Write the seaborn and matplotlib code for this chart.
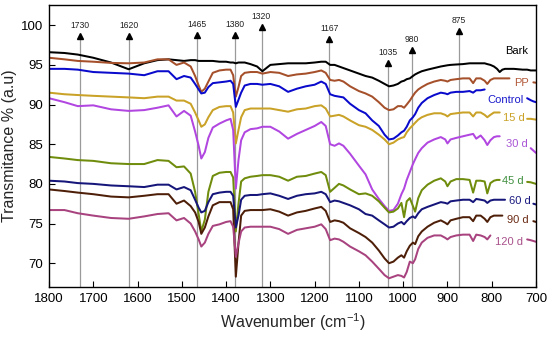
import numpy as np
import pandas as pd
import matplotlib
matplotlib.use("Agg")
import matplotlib.pyplot as plt
import seaborn as sns

nan = np.nan

wavenumber = [1800, 1765, 1735, 1700, 1660, 1620, 1585, 1555, 1530, 1512,
              1495, 1480, 1470, 1462, 1456, 1448, 1440, 1430, 1415, 1400,
              1390, 1384, 1378, 1372, 1366, 1358, 1345, 1330, 1318, 1300,
              1280, 1260, 1240, 1220, 1200, 1185, 1175, 1165, 1155, 1145,
              1135, 1120, 1100, 1085, 1070, 1055, 1042, 1032, 1022, 1012,
              1004, 998, 992, 985, 978, 973, 966, 958, 945, 930,
              915, 905, 900, 893, 880, 865, 850, 842, 835, 825,
              816, 810, 803, 795, 788, 782, 776, 770, 760, 750,
              740, 730, 720, 712, 706, 700]

bark = [96.6, 96.5, 96.3, 95.9, 95.3, 94.45, 95.2, 95.6, 95.7, 95.6,
        95.5, 95.6, 95.6, 95.5, 95.5, 95.5, 95.5, 95.5, 95.4, 95.4,
        95.3, 95.3, 95.2, 95.3, 95.3, 95.3, 95.1, 94.8, 94.2, 95.0,
        95.1, 95.2, 95.2, 95.2, 95.3, 95.4, 95.4, 95.0, 95.0, 94.8,
        94.6, 94.3, 93.9, 93.6, 93.4, 93.0, 92.6, 92.3, 92.4, 92.6,
        92.9, 93.0, 93.2, 93.3, 93.6, 93.8, 94.0, 94.2, 94.4, 94.6,
        94.8, 94.9, 94.95, 95.0, 95.05, 95.1, 95.2, 95.2, 95.2, 95.2,
        95.2, 95.1, 95.0, 94.8, 94.5, 94.1, 94.4, 94.5, 94.5, 94.5,
        94.45, 94.4, 94.4, 94.3, 94.3, 94.3]

pp = [95.9, 95.7, 95.5, 95.4, 95.25, 95.2, 95.3, 95.7, 95.7, 95.0,
      95.3, 94.8, 93.6, 92.4, 91.6, 92.0, 92.9, 94.0, 94.3, 94.4,
      94.4, 93.7, 91.0, 92.2, 93.6, 94.0, 94.1, 94.1, 93.9, 94.1,
      94.0, 93.6, 93.8, 93.9, 94.1, 94.3, 94.0, 93.1, 93.0, 93.1,
      92.9, 92.3, 91.7, 91.4, 91.0, 90.3, 89.6, 89.3, 89.4, 89.8,
      89.8, 89.6, 90.0, 90.5, 91.1, 91.5, 91.9, 92.2, 92.6, 92.9,
      93.1, 93.0, 92.9, 93.1, 93.2, 93.3, 93.3, 92.7, 93.3, 93.3,
      93.0, 92.6, 93.1, 93.3, 93.3, 93.3, 93.3, 93.3, 93.3, nan,
      nan, nan, nan, nan, 92.8, 92.75]

control = [94.5, 94.5, 94.4, 94.1, 94.0, 93.9, 93.7, 94.2, 94.2, 93.2,
           93.6, 93.4, 92.6, 91.9, 91.4, 91.5, 92.2, 92.7, 92.8, 92.9,
           93.0, 92.6, 89.7, 90.6, 91.5, 92.4, 92.6, 92.6, 92.5, 92.6,
           92.3, 91.6, 92.0, 92.3, 92.5, 92.9, 92.6, 91.3, 91.1, 91.0,
           90.9, 90.1, 89.3, 88.9, 88.0, 87.3, 86.2, 85.6, 85.7, 86.1,
           86.5, 86.7, 87.2, 88.0, 88.4, 88.8, 89.6, 90.2, 90.8, 91.2,
           91.5, 91.4, 91.3, 91.5, 91.6, 91.6, 91.7, 91.5, 91.8, 91.8,
           91.9, nan, nan, nan, nan, nan, nan, nan, nan, nan,
           nan, nan, 90.8, 90.55, 90.4, 90.3]

d15 = [91.5, 91.3, 91.2, 91.1, 91.0, 90.9, 90.8, 91.0, 91.0, 90.5,
       90.5, 90.1, 89.0, 88.0, 87.2, 87.5, 88.4, 89.3, 89.7, 89.8,
       89.8, 89.0, 85.1, 86.8, 88.4, 89.3, 89.5, 89.5, 89.5, 89.5,
       89.3, 89.1, 89.4, 89.5, 89.8, 89.9, 89.5, 88.5, 88.6, 88.7,
       88.5, 88.0, 87.4, 87.2, 86.8, 86.2, 85.6, 85.0, 85.2, 85.6,
       85.8, 85.9, 86.5, 87.0, 87.4, 87.7, 88.1, 88.4, 88.7, 88.9,
       88.9, 88.7, 88.5, 88.8, 88.9, 89.0, 89.0, 88.5, 89.0, 89.0,
       88.7, 88.4, 88.7, 89.0, 89.0, 89.0, nan, nan, nan, nan,
       nan, nan, 88.2, 88.2, 88.15, 88.1]

d30 = [90.8, 90.3, 89.8, 89.9, 89.4, 89.2, 89.3, 89.6, 89.9, 88.5,
       89.2, 88.6, 86.6, 84.8, 83.2, 84.0, 85.8, 87.1, 87.6, 88.0,
       88.2, 86.8, 79.4, 83.0, 85.5, 86.5, 86.9, 87.0, 87.2, 87.2,
       86.6, 85.7, 86.3, 86.8, 87.3, 87.8, 87.3, 85.0, 84.8, 85.1,
       84.8, 83.8, 82.3, 81.2, 79.3, 78.1, 77.2, 76.6, 76.7, 77.5,
       78.7, 79.4, 80.5, 81.5, 82.5, 83.1, 83.9, 84.5, 85.2, 85.6,
       85.9, 85.6, 85.1, 85.6, 85.8, 86.0, 86.2, 86.3, 85.7, 86.1,
       85.5, 84.9, 85.5, 85.9, 86.0, 86.0, nan, nan, nan, nan,
       nan, nan, nan, 84.5, 84.2, 83.9]

d45 = [83.4, 83.2, 83.0, 82.9, 82.6, 82.5, 82.5, 83.0, 82.9, 82.1,
       82.2, 81.3, 79.0, 76.2, 74.0, 75.5, 79.0, 81.0, 81.4, 81.5,
       81.5, 80.8, 74.0, 77.5, 80.3, 80.7, 80.9, 81.0, 81.1, 81.1,
       80.9, 80.4, 80.9, 81.0, 81.3, 81.5, 81.1, 79.0, 79.5, 80.0,
       79.8, 79.3, 78.7, 78.8, 78.5, 77.8, 77.0, 76.4, 76.5, 76.9,
       77.6, 75.8, 77.8, 78.2, 77.2, 76.5, 78.2, 79.2, 79.9, 80.4,
       80.7, 80.3, 79.7, 80.3, 80.6, 80.6, 80.5, 78.9, 80.4, 80.4,
       80.3, 78.8, 80.1, 80.4, 80.5, 80.5, nan, nan, nan, nan,
       nan, nan, 80.25, 80.2, 80.1, 80.0]

d60 = [80.4, 80.3, 80.1, 80.0, 79.8, 79.7, 79.6, 79.9, 79.9, 79.3,
       79.6, 79.2, 78.0, 77.0, 76.4, 76.6, 77.7, 78.7, 78.9, 79.0,
       79.0, 78.5, 74.5, 76.0, 78.0, 78.5, 78.6, 78.6, 78.7, 78.8,
       78.5, 78.1, 78.5, 78.7, 78.8, 79.0, 78.7, 77.7, 77.9, 77.8,
       77.6, 77.3, 76.8, 76.2, 76.0, 75.4, 74.9, 74.5, 74.6, 75.0,
       75.2, 74.9, 75.3, 75.7, 75.9, 75.7, 76.3, 76.8, 77.1, 77.4,
       77.7, 77.6, 77.5, 77.8, 77.9, 78.0, 78.0, 77.7, 78.1, 78.0,
       77.9, 77.6, 77.9, 78.0, 78.0, 78.0, 78.0, 78.0, nan, nan,
       nan, nan, nan, nan, 77.5, 77.4]

d90 = [79.3, 79.1, 78.9, 78.7, 78.4, 78.3, 78.5, 78.7, 78.7, 77.5,
       77.9, 77.2, 76.4, 75.2, 73.7, 74.5, 75.9, 77.3, 77.7, 77.7,
       77.7, 76.8, 68.3, 72.5, 76.0, 76.6, 76.7, 76.7, 76.7, 76.8,
       76.5, 76.0, 76.4, 76.6, 76.9, 77.1, 76.6, 75.2, 75.4, 75.3,
       75.1, 74.4, 73.8, 73.3, 72.6, 71.6, 70.6, 70.0, 70.2, 70.7,
       71.0, 70.7, 71.5, 72.2, 72.6, 72.4, 73.4, 74.0, 74.6, 75.1,
       75.4, 75.1, 74.9, 75.4, 75.6, 75.8, 75.8, 75.3, 76.0, 76.0,
       75.6, 75.2, 75.8, 76.0, 76.0, 76.0, 76.0, nan, nan, nan,
       nan, nan, nan, nan, 75.3, 75.2]

d120 = [76.7, 76.7, 76.3, 76.0, 75.7, 75.6, 75.9, 76.2, 76.3, 75.4,
        75.7, 75.0, 74.0, 73.0, 72.1, 72.6, 73.7, 74.7, 74.9, 75.2,
        75.3, 74.6, 70.8, 72.5, 74.0, 74.5, 74.6, 74.6, 74.6, 74.6,
        74.3, 73.7, 74.2, 74.4, 74.6, 74.9, 74.3, 72.9, 73.1, 73.0,
        72.7, 72.1, 71.5, 71.0, 70.2, 69.3, 68.5, 68.1, 68.3, 68.5,
        68.4, 68.2, 68.9, 70.2, 70.0, 70.5, 71.8, 72.6, 73.2, 73.5,
        73.5, 73.2, 73.0, 73.3, 73.5, 73.6, 73.6, 72.8, 73.6, 73.5,
        73.3, 73.0, 73.5, nan, nan, nan, nan, nan, nan, nan,
        nan, nan, 73.0, 72.9, 72.8, 72.7]

series_names = ["Bark", "PP", "Control", "15 d", "30 d", "45 d", "60 d", "90 d", "120 d"]
series_values = [bark, pp, control, d15, d30, d45, d60, d90, d120]
series_colors = ["#000000", "#a5502a", "#0a0acc", "#c9a227", "#b146e0",
                 "#6f8c0c", "#15157a", "#4e1f08", "#a8437f"]
label_colors = ["#000000", "#b35a3a", "#1a1acc", "#c9a227", "#a955d6",
                "#3f8f3f", "#1a1a80", "#6b2a14", "#a8508a"]
label_wn = [743, 732, 770, 751, 743, 752, 736, 741, 762]
label_T = [96.7, 92.7, 90.6, 88.3, 85.0, 80.3, 77.8, 75.5, 72.7]

band_wn = [1730, 1620, 1465, 1380, 1320, 1167, 1035, 980, 875]
band_tip = [99.0, 99.0, 99.2, 99.2, 100.2, 98.7, 95.6, 97.2, 99.7]

# long-format table, one unit per contiguous segment
rows = []
for name, vals in zip(series_names, series_values):
    seg = 0
    prev_nan = False
    for w, v in zip(wavenumber, vals):
        if np.isnan(v):
            prev_nan = True
            continue
        if prev_nan:
            seg += 1
            prev_nan = False
        rows.append({"wn": w, "T": v, "series": name, "seg": f"{name}-{seg}"})
df = pd.DataFrame(rows)

sns.set_theme(style="white")
plt.rcParams["font.family"] = ["Liberation Sans", "DejaVu Sans"]
plt.rcParams["mathtext.fontset"] = "custom"
plt.rcParams["mathtext.rm"] = "Liberation Sans"
plt.rcParams["mathtext.default"] = "regular"

fig = plt.figure(figsize=(5.5, 3.43), dpi=100)
ax = fig.add_axes([49 / 550, 56 / 343, 487 / 550, 282 / 343])

ymin, ymax = 67.0, 102.55

# band marker lines with arrows
for w, tip in zip(band_wn, band_tip):
    ax.plot([w, w], [ymin, tip - 0.4], color="#9a9a9a", lw=0.9, zorder=1)
    ax.plot([w], [tip - 0.38], marker="^", color="black", markersize=4.2,
            linestyle="none", zorder=3)
    ax.text(w, tip + 0.95, str(w), ha="center", va="center", fontsize=6.2,
            color="#222222")

palette = dict(zip(series_names, series_colors))
sns.lineplot(data=df, x="wn", y="T", hue="series", units="seg", estimator=None,
             hue_order=series_names, palette=palette, sort=False, legend=False,
             lw=1.45, ax=ax, zorder=2)

for name, c, w, t in zip(series_names, label_colors, label_wn, label_T):
    ax.text(w, t, name, color=c, fontsize=8, ha="center", va="center")

ax.set_xlim(1800, 700)
ax.set_ylim(ymin, ymax)
ax.set_xticks(range(1800, 699, -100))
ax.set_yticks([70, 75, 80, 85, 90, 95, 100])
ax.tick_params(axis="both", direction="in", length=4, width=0.8,
               labelsize=9.5, colors="black", bottom=True, left=True,
               top=False, right=False, pad=4)
for s in ax.spines.values():
    s.set_color("black")
    s.set_linewidth(1.0)
ax.set_xlabel("Wavenumber (cm$^{-1}$)", fontsize=11.5, labelpad=5)
ax.set_ylabel("Transmitance % (a.u)", fontsize=11.5, labelpad=3)

fig.savefig("out.png", dpi=100)
